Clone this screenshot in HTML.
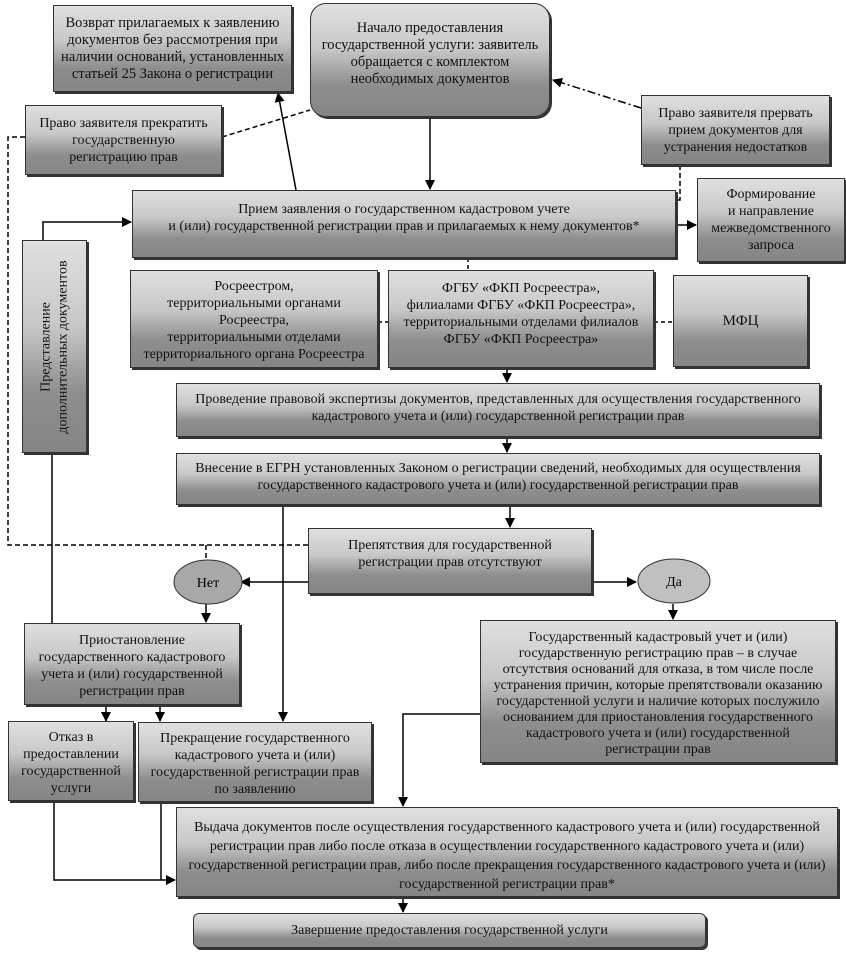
<!DOCTYPE html>
<html><head><meta charset="utf-8"><style>
body{margin:0;width:846px;height:957px;background:#fff;position:relative;overflow:hidden;font-family:"Liberation Serif",serif;}
.b{position:absolute;box-sizing:border-box;border:1px solid #333;background:linear-gradient(180deg,#e0e0e0 0%,#c8c8c8 40%,#8e8e8e 72%,#858585 100%);box-shadow:2px 2px 0 #333;display:flex;align-items:center;justify-content:center;text-align:center;font-size:14px;line-height:17px;color:#111;white-space:nowrap;}
.t{align-items:flex-start;padding-top:6px}
svg{position:absolute;left:0;top:0}
</style></head><body>
<svg width="846" height="957">
<defs><marker id="a" markerWidth="10" markerHeight="10" refX="9" refY="5" orient="auto" markerUnits="userSpaceOnUse"><path d="M0,0 L10,5 L0,10 z" fill="#000"/></marker></defs>
<g stroke="#000" stroke-width="1.5" fill="none">
<line x1="430" y1="117" x2="430" y2="189" marker-end="url(#a)"/>
<line x1="296" y1="190" x2="278" y2="93" marker-end="url(#a)"/>
<line x1="222" y1="137" x2="310" y2="110" stroke-dasharray="5,3"/>
<line x1="641" y1="108" x2="553" y2="80" stroke-dasharray="8,3,2,3" marker-end="url(#a)"/>
<polyline points="680,165 680,200 676,200" stroke-dasharray="5,3"/>
<line x1="676" y1="225" x2="696" y2="225" marker-end="url(#a)"/>
<line x1="468" y1="258" x2="468" y2="270" stroke-dasharray="4,3"/>
<line x1="378" y1="322" x2="388" y2="322" stroke-dasharray="4,3"/>
<line x1="654" y1="322" x2="673" y2="322" stroke-dasharray="4,3"/>
<line x1="507" y1="368" x2="507" y2="382" marker-end="url(#a)"/>
<line x1="507" y1="437" x2="507" y2="452" marker-end="url(#a)"/>
<line x1="510" y1="505" x2="510" y2="527" marker-end="url(#a)"/>
<line x1="308" y1="582" x2="241" y2="582" marker-end="url(#a)"/>
<line x1="592" y1="582" x2="636" y2="582" marker-end="url(#a)"/>
<line x1="673" y1="604" x2="673" y2="619" marker-end="url(#a)"/>
<line x1="206" y1="604" x2="206" y2="622" marker-end="url(#a)"/>
<polyline points="25,137 8,137 8,545 308,545" stroke-dasharray="5,3"/>
<line x1="206" y1="545" x2="206" y2="560" stroke-dasharray="5,3"/>
<polyline points="43,240 43,222 131,222" marker-end="url(#a)"/>
<line x1="52" y1="453" x2="52" y2="623"/>
<line x1="283" y1="505" x2="283" y2="721" marker-end="url(#a)"/>
<line x1="106" y1="705" x2="106" y2="721" marker-end="url(#a)"/>
<line x1="160" y1="705" x2="160" y2="721" marker-end="url(#a)"/>
<polyline points="480,714 403,714 403,806" marker-end="url(#a)"/>
<polyline points="54,800 54,880 175,880" marker-end="url(#a)"/>
<line x1="161" y1="800" x2="161" y2="880"/>
<line x1="403" y1="897" x2="403" y2="912" marker-end="url(#a)"/>
</g>
<g stroke="#333" stroke-width="1">
<ellipse cx="208" cy="582" rx="34" ry="22" fill="#a8a8a8"/>
<ellipse cx="674" cy="581" rx="36" ry="22" fill="#c0c0c0"/>
</g>
<text x="208" y="587" font-size="14" text-anchor="middle" font-family="Liberation Serif">Нет</text>
<text x="674" y="586" font-size="14" text-anchor="middle" font-family="Liberation Serif">Да</text>
</svg>
<div class="b t" style="left:53px;top:5px;width:239px;height:87px;padding-top:9px;font-size:14.5px">Возврат прилагаемых к заявлению<br>документов без рассмотрения при<br>наличии оснований, установленных<br>статьей 25 Закона о регистрации</div>
<div class="b t" style="left:310px;top:3px;width:240px;height:114px;border-radius:16px;padding-top:16px;font-size:14.5px">Начало предоставления<br>государственной услуги: заявитель<br>обращается с комплектом<br>необходимых документов</div>
<div class="b t" style="left:25px;top:105px;width:197px;height:70px;padding-top:9px">Право заявителя прекратить<br>государственную<br>регистрацию прав</div>
<div class="b t" style="left:641px;top:95px;width:189px;height:70px;padding-top:9px">Право заявителя прервать<br>прием документов для<br>устранения недостатков</div>
<div class="b t" style="left:132px;top:190px;width:544px;height:68px;padding-top:10px">Прием заявления о государственном кадастровом учете<br>и (или) государственной регистрации прав и прилагаемых к нему документов*</div>
<div class="b" style="left:697px;top:178px;width:148px;height:84px">Формирование<br>и направление<br>межведомственного<br>запроса</div>
<div class="b" style="left:22px;top:240px;width:65px;height:213px"><div style="transform:rotate(-90deg);white-space:nowrap">Представление<br>дополнительных документов</div></div>
<div class="b t" style="left:130px;top:270px;width:248px;height:98px;padding-top:7px">Росреестром,<br>территориальными органами<br>Росреестра,<br>территориальными отделами<br>территориального органа Росреестра</div>
<div class="b t" style="left:388px;top:270px;width:266px;height:98px;padding-top:9px">ФГБУ «ФКП Росреестра»,<br>филиалами ФГБУ «ФКП Росреестра»,<br>территориальными отделами филиалов<br>ФГБУ «ФКП Росреестра»</div>
<div class="b" style="left:673px;top:275px;width:135px;height:92px;font-size:15px">МФЦ</div>
<div class="b t" style="left:176px;top:383px;width:644px;height:54px;padding-top:7px">Проведение правовой экспертизы документов, представленных для осуществления государственного<br>кадастрового учета и (или) государственной регистрации прав</div>
<div class="b t" style="left:176px;top:453px;width:644px;height:52px;padding-top:6px">Внесение в ЕГРН установленных Законом о регистрации сведений, необходимых для осуществления<br>государственного кадастрового учета и (или) государственной регистрации прав</div>
<div class="b t" style="left:308px;top:528px;width:284px;height:66px;padding-top:8px">Препятствия для государственной<br>регистрации прав отсутствуют</div>
<div class="b t" style="left:24px;top:623px;width:216px;height:82px;padding-top:8px">Приостановление<br>государственного кадастрового<br>учета и (или) государственной<br>регистрации прав</div>
<div class="b t" style="left:480px;top:620px;width:356px;height:143px;padding-top:9px;line-height:16px">Государственный кадастровый учет и (или)<br>государственную регистрацию прав – в случае<br>отсутствия оснований для отказа, в том числе после<br>устранения причин, которые препятствовали оказанию<br>государстенной услуги и наличие которых послужило<br>основанием для приостановления государственного<br>кадастрового учета и (или) государственной<br>регистрации прав</div>
<div class="b t" style="left:8px;top:721px;width:126px;height:80px;padding-top:7px">Отказ в<br>предоставлении<br>государственной<br>услуги</div>
<div class="b t" style="left:138px;top:722px;width:234px;height:80px;padding-top:7px">Прекращение государственного<br>кадастрового учета и (или)<br>государственной регистрации прав<br>по заявлению</div>
<div class="b t" style="left:176px;top:807px;width:662px;height:90px;padding-top:10px;line-height:19px">Выдача документов после осуществления государственного кадастрового учета и (или) государственной<br>регистрации прав либо после отказа в осуществлении государственного кадастрового учета и (или)<br>государственной регистрации прав, либо после прекращения государственного кадастрового учета и (или)<br>государственной регистрации прав*</div>
<div class="b" style="left:193px;top:913px;width:513px;height:35px;border-radius:6px">Завершение предоставления государственной услуги</div>
</body></html>
